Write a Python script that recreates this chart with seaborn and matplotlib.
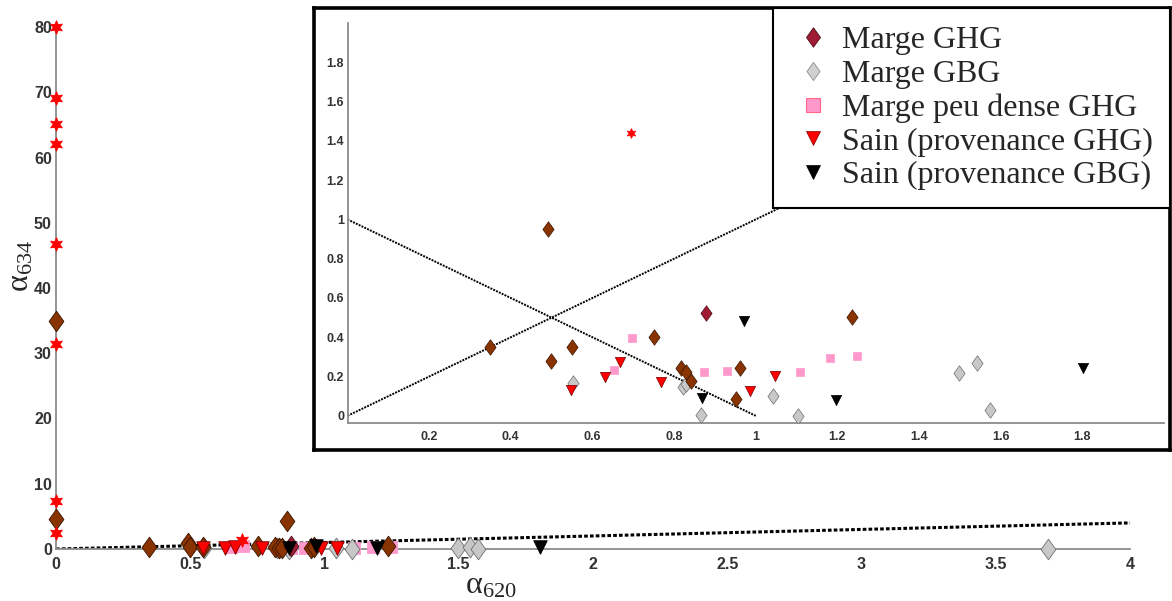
import matplotlib
matplotlib.use('Agg')

import matplotlib.pyplot as plt
import seaborn as sns
from matplotlib.lines import Line2D
from matplotlib.path import Path

# données (alpha620, alpha634)
brown_x = [0, 0, 0.348, 0.491, 0.499, 0.549, 0.751, 0.817, 0.829, 0.841, 0.861, 0.951, 0.962, 1.236]
brown_y = [35.0, 4.55, 0.352, 0.949, 0.279, 0.348, 0.399, 0.245, 0.224, 0.177, 4.35, 0.088, 0.243, 0.503]

ghg_x = [0.877]
ghg_y = [0.525]

gbg_x = [0.553, 0.822, 0.830, 0.867, 1.042, 1.103, 1.497, 1.543, 1.573, 3.696]
gbg_y = [0.167, 0.148, 0.160, 0.004, 0.102, 0.0, 0.217, 0.268, 0.031, 0.03]

pink_x = [0.653, 0.698, 0.874, 0.929, 1.109, 1.181, 1.248]
pink_y = [0.231, 0.398, 0.224, 0.228, 0.224, 0.296, 0.304]

sain_ghg_x = [0.547, 0.630, 0.668, 0.768, 0.986, 1.046]
sain_ghg_y = [0.134, 0.196, 0.272, 0.170, 0.127, 0.204]

sain_gbg_x = [0.869, 0.970, 1.197, 1.802]
sain_gbg_y = [0.092, 0.482, 0.080, 0.245]

star_x = [0, 0, 0, 0, 0, 0, 0, 0, 0.694]
star_y = [80, 69.1, 65.2, 62.1, 46.8, 31.4, 7.3, 2.4, 1.442]

# droites de référence
diag_x = [0, 4]
diag_y = [0, 4]
anti_x = [0, 1]
anti_y = [1, 0]

labels = ["Marge GHG", "Marge GBG", "Marge peu dense GHG",
          "Sain (provenance GHG)", "Sain (provenance GBG)"]

sns.set_style("white")
plt.rcParams["mathtext.fontset"] = "custom"
plt.rcParams["mathtext.rm"] = "Liberation Serif"
plt.rcParams["mathtext.it"] = "Liberation Serif:italic"

# losange façon matlab (plus large que le 'd' de matplotlib)
DIAM = Path([(0, 1), (0.72, 0), (0, -1), (-0.72, 0), (0, 1)],
            [Path.MOVETO, Path.LINETO, Path.LINETO, Path.LINETO, Path.CLOSEPOLY])
STAR6 = (6, 1, 0)

W, H = 1172, 601
fig = plt.figure(figsize=(W / 100, H / 100), dpi=100)

# (x, y, marker, face, edge, taille principale, taille encart)
series = [
    (pink_x, pink_y, "s", "#ff99cc", "#ff99cc", 85, 36),
    (gbg_x, gbg_y, DIAM, "#c8c8c8", "#6e6e6e", 220, 125),
    (brown_x, brown_y, DIAM, "#883300", "#3a1500", 220, 125),
    (ghg_x, ghg_y, DIAM, "#a01c32", "#4a0a14", 220, 125),
    (sain_ghg_x, sain_ghg_y, "v", "#ff0000", "#7a0000", 95, 55),
    (sain_gbg_x, sain_gbg_y, "v", "#000000", "#000000", 95, 55),
    (star_x, star_y, STAR6, "#ff0000", "#ff0000", 95, 50),
]


def style_axes(a, lab_size, tick_len, xpad, ypad):
    sns.despine(ax=a)
    for s in ["left", "bottom"]:
        a.spines[s].set_color("#8c8c8c")
        a.spines[s].set_linewidth(1.3)
    a.tick_params(direction="in", length=tick_len, width=1.0, color="#8c8c8c",
                  labelsize=lab_size, labelcolor="#333333")
    a.tick_params(axis="x", pad=xpad)
    a.tick_params(axis="y", pad=ypad)
    for t in a.get_xticklabels() + a.get_yticklabels():
        t.set_fontweight("bold")
        t.set_family("Liberation Sans")
    a.set_xlabel("")
    a.set_ylabel("")


# ---- graphe principal
ax = fig.add_axes([56 / W, 1 - 549 / H, (1130 - 56) / W, (549 - 27) / H])
ax.set_facecolor("none")
sns.lineplot(x=diag_x, y=diag_y, ax=ax, color="black", lw=2.2,
             linestyle=(0, (1.2, 0.7)), zorder=1)
for x, y, m, fc, ec, s_main, s_in in series:
    sns.scatterplot(x=x, y=y, ax=ax, marker=m, s=s_main, color=fc, edgecolor=ec,
                    linewidth=0.6, legend=False, clip_on=False, zorder=3)
ax.set_xlim(0, 4)
ax.set_ylim(0, 80)
ax.set_xticks([0, 0.5, 1, 1.5, 2, 2.5, 3, 3.5, 4])
ax.set_xticklabels(["0", "0.5", "1", "1.5", "2", "2.5", "3", "3.5", "4"])
ax.set_yticks(range(0, 81, 10))
ax.set_yticklabels([str(v) for v in range(0, 81, 10)])
style_axes(ax, 11.5, 7, 6, 3)

fig.text(491 / W, 1 - 585 / H, r"$\mathrm{\alpha}_{620}$", ha="center", va="center",
         fontsize=23)
fig.text(20 / W, 1 - 266 / H, r"$\mathrm{\alpha}_{634}$", ha="center", va="center",
         fontsize=23, rotation=90)

# ---- cadre de l'encart
frame = fig.add_axes([314 / W, 1 - 450 / H, 856 / W, 442 / H])
frame.set_facecolor("white")
frame.set_xticks([])
frame.set_yticks([])
for s in frame.spines.values():
    s.set_color("black")
    s.set_linewidth(2.6)
    s.set_visible(True)

# ---- encart (zoom)
ax_in = fig.add_axes([347.5 / W, 1 - 422.7 / H, (1164 - 347.5) / W, (422.7 - 23) / H])
ax_in.set_facecolor("none")
sns.lineplot(x=[0, 2], y=[0, 2], ax=ax_in, color="black", lw=1.4,
             linestyle=(0, (1, 0.6)), zorder=1)
sns.lineplot(x=anti_x, y=anti_y, ax=ax_in, color="black", lw=1.4,
             linestyle=(0, (1, 0.6)), zorder=1)
for x, y, m, fc, ec, s_main, s_in in series:
    sns.scatterplot(x=x, y=y, ax=ax_in, marker=m, s=s_in, color=fc, edgecolor=ec,
                    linewidth=0.5, legend=False, zorder=3)
ax_in.set_xlim(0, 2)
ax_in.set_ylim(-0.035, 2.0)
xt = [0.2, 0.4, 0.6, 0.8, 1, 1.2, 1.4, 1.6, 1.8]
ax_in.set_xticks(xt)
ax_in.set_xticklabels(["%g" % v for v in xt])
yt = [0, 0.2, 0.4, 0.6, 0.8, 1, 1.2, 1.4, 1.6, 1.8]
ax_in.set_yticks(yt)
ax_in.set_yticklabels(["%g" % v for v in yt])
style_axes(ax_in, 9, 5.5, 6, 2.5)

# ---- légende
handles = [
    Line2D([], [], ls="", marker=DIAM, ms=14, mfc="#a01c32", mec="#4a0a14", mew=0.6),
    Line2D([], [], ls="", marker=DIAM, ms=13, mfc="#d0d0d0", mec="#8a8a8a", mew=0.6),
    Line2D([], [], ls="", marker="s", ms=10, mfc="#ff99cc", mec="#ff6688", mew=0.8),
    Line2D([], [], ls="", marker="v", ms=10.5, mfc="#ff0000", mec="#7a0000", mew=0.5),
    Line2D([], [], ls="", marker="v", ms=10.5, mfc="#000000", mec="#000000", mew=0.5),
]
leg = ax_in.legend(handles, labels, loc="upper right",
                   bbox_to_anchor=(1170 / W, 1 - 8 / H), bbox_transform=fig.transFigure,
                   borderaxespad=0, frameon=True, fancybox=False, framealpha=1,
                   edgecolor="black", prop={"family": "Liberation Serif", "size": 23},
                   labelspacing=0.14, handletextpad=0.2, handlelength=1.4,
                   borderpad=0.55)
leg.get_frame().set_linewidth(1.5)
leg.set_zorder(10)

fig.savefig("out.png", dpi=100)
